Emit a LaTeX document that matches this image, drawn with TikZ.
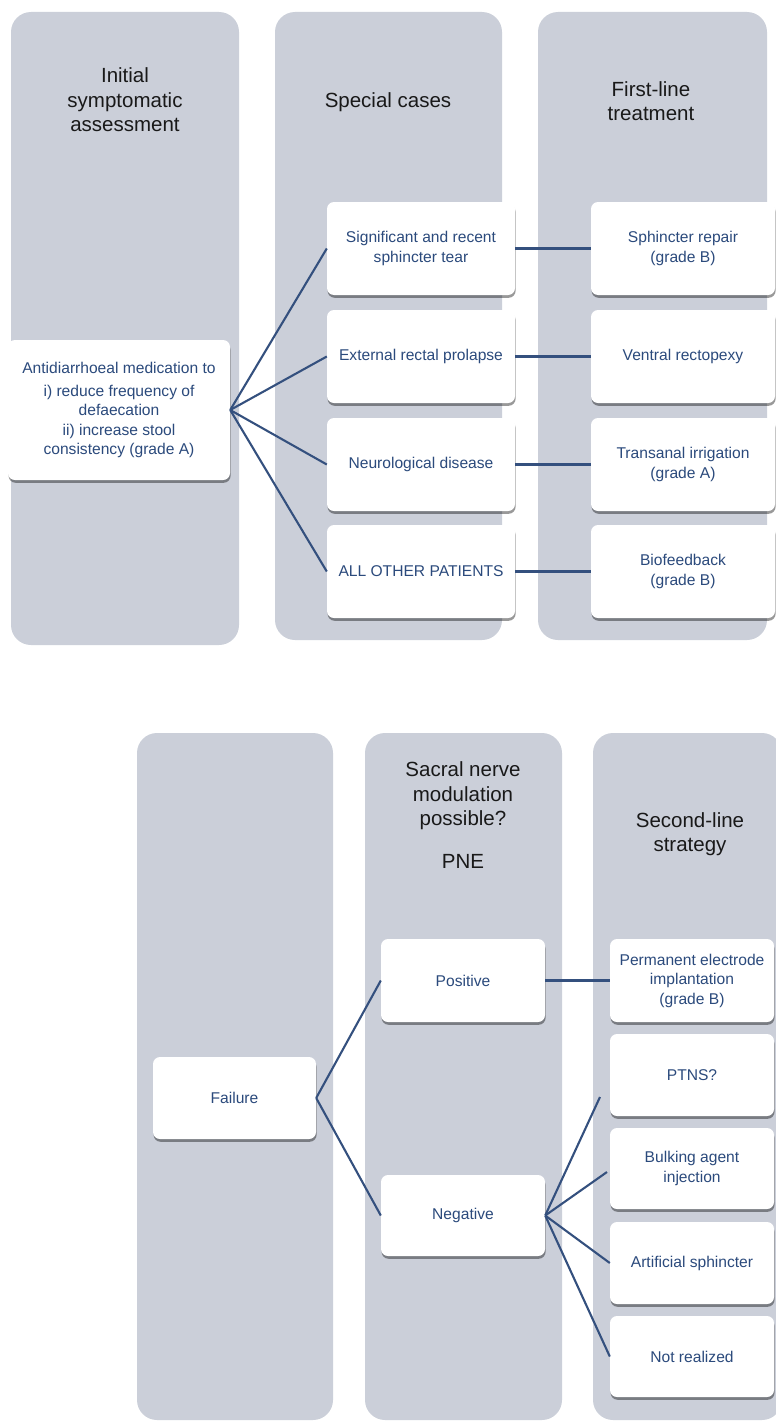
\documentclass[tikz,border=0pt]{standalone}
\usepackage{fontspec}
\setmainfont{Liberation Sans}
\usetikzlibrary{shadows}
\definecolor{panel}{HTML}{CBCFD9}
\definecolor{txtblue}{HTML}{2B4A7C}
\definecolor{linkblue}{HTML}{34507E}
\tikzset{
  panelbox/.style={fill=panel, rounded corners=20pt},
  card/.style={fill=white, rounded corners=7pt, inner sep=2pt, align=center, text=txtblue,
    font=\fontsize{15.6}{19.5}\selectfont,
    drop shadow={shadow xshift=0.6pt, shadow yshift=-2.8pt, fill=black, opacity=0.4}},
  header/.style={align=center, text=black!90, font=\fontsize{20.5}{24.5}\selectfont, inner sep=0pt},
  link/.style={draw=linkblue, line width=2.1pt},
}
\begin{document}
\begin{tikzpicture}[x=1pt,y=-1pt]
\useasboundingbox (0,0) rectangle (776,1421);
\clip (0,0) rectangle (776,1421);

% ---------- top panels
\path[panelbox] (11,12) rectangle (239,645);
\path[panelbox] (275,12) rectangle (502,640);
\path[panelbox] (538,12) rectangle (767,640);

\node[header] (h1) at (125,100) {Initial\\symptomatic\\assessment};
\node[header] (h2) at (388,102) {Special cases};
\node[header] (h3) at (651,101) {First-line\\treatment};

% ---------- top cards
\node[card, minimum width=222, minimum height=140] (anti) at (119,410)
  {Antidiarrhoeal medication to\\[3pt]i) reduce frequency of\\defaecation\\ii) increase stool\\consistency (grade A)};

\node[card, minimum width=188, minimum height=93] (s1) at (421,248.5) {Significant and recent\\sphincter tear};
\node[card, minimum width=188, minimum height=93] (s2) at (421,356.5) {External rectal prolapse};
\node[card, minimum width=188, minimum height=93] (s3) at (421,464.5) {Neurological disease};
\node[card, minimum width=188, minimum height=93] (s4) at (421,571.5) {ALL OTHER PATIENTS};

\node[card, minimum width=184, minimum height=93] (f1) at (683,248.5) {Sphincter repair\\(grade B)};
\node[card, minimum width=184, minimum height=93] (f2) at (683,356.5) {Ventral rectopexy};
\node[card, minimum width=184, minimum height=93] (f3) at (683,464.5) {Transanal irrigation\\(grade A)};
\node[card, minimum width=184, minimum height=93] (f4) at (683,571.5) {Biofeedback\\(grade B)};

\foreach \i in {1,2,3,4} {
  \draw[link] (anti.east) -- (s\i.west);
  \draw[link] (s\i.east) -- (f\i.west);
}

% ---------- bottom panels
\path[panelbox] (137,733) rectangle (333,1420);
\path[panelbox] (365,733) rectangle (562,1420);
\path[panelbox] (593,733) rectangle (782,1420);

\node[header] (h4) at (463,815) {Sacral nerve\\modulation\\possible?\\[18pt]PNE};
\node[header] (h5) at (690,834) {Second-line\\strategy};

% ---------- bottom cards
\node[card, minimum width=163, minimum height=82] (fail) at (234.5,1098) {Failure};
\node[card, minimum width=164, minimum height=83] (pos) at (463,980.5) {Positive};
\node[card, minimum width=164, minimum height=81] (neg) at (463,1215.5) {Negative};

\node[card, minimum width=164, minimum height=83] (perm) at (692,980.5) {Permanent electrode\\implantation\\(grade B)};
\node[card, minimum width=164, minimum height=82] (ptns) at (692,1075) {PTNS?};
\node[card, minimum width=164, minimum height=81] (bulk) at (692,1168.5) {Bulking agent\\injection};
\node[card, minimum width=164, minimum height=82] (art) at (692,1263) {Artificial sphincter};
\node[card, minimum width=164, minimum height=81] (notr) at (692,1356.5) {Not realized};

\coordinate (ptnsEnd) at (600,1097);
\coordinate (bulkEnd) at (607,1172);

\draw[link] (fail.east) -- (pos.west);
\draw[link] (fail.east) -- (neg.west);
\draw[link] (pos.east) -- (perm.west);
\draw[link] (neg.east) -- (ptnsEnd);
\draw[link] (neg.east) -- (bulkEnd);
\draw[link] (neg.east) -- (art.west);
\draw[link] (neg.east) -- (notr.west);
\end{tikzpicture}
\end{document}
